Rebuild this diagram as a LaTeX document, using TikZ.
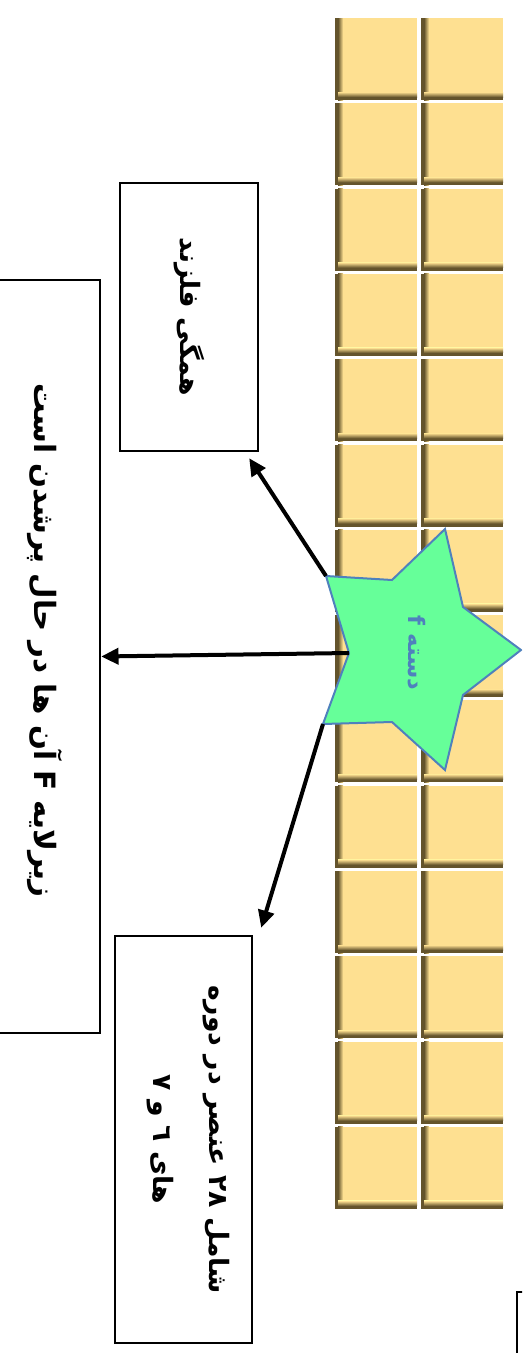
\documentclass[tikz,border=0pt]{standalone}
\usepackage{fontspec}
\usepackage{graphicx}
\newfontfamily\farsi[Script=Arabic]{DejaVu Sans}
\TeXXeTstate=1
\usetikzlibrary{arrows.meta}
\definecolor{cellbg}{RGB}{254,224,145}
\definecolor{cellsh}{RGB}{100,84,44}
\definecolor{stargreen}{RGB}{102,255,153}
\definecolor{starblue}{RGB}{79,129,189}
\tikzset{
  box/.style={draw, line width=1.8pt, inner sep=0pt, font=\farsi\bfseries},
  arr/.style={line width=3pt, -{Triangle[length=13pt,width=12pt]}},
}
\newcommand{\rtext}[1]{\rotatebox{-90}{\beginR #1\endR}}

\begin{document}
\begin{tikzpicture}[x=0.75pt, y=-0.75pt]
  \useasboundingbox (0,0) rectangle (522,1353);
  \clip (0,0) rectangle (522,1353);
  % two columns of cells
  \foreach \r [evaluate=\r as \y using 18+85.3*\r] in {0,...,13} {
    \foreach \cx in {335,421} {
      \fill[cellbg] (\cx,\y) rectangle (\cx+82,\y+82);
      \fill[cellsh] (\cx,\y) rectangle (\cx+3,\y+82);
      \fill[left color=cellsh, right color=cellbg] (\cx+3,\y) rectangle (\cx+8,\y+82);
      \fill[cellsh] (\cx,\y+79) rectangle (\cx+82,\y+82);
      \fill[top color=cellbg, bottom color=cellsh] (\cx+3,\y+74) rectangle (\cx+82,\y+79);
    }
  }
  \node[box, minimum width=103.5pt, minimum height=201pt] (hm) at (189,317)
    {\fontsize{20}{24}\selectfont\rtext{همگی فلزند}};
  \node[box, minimum width=82.5pt, minimum height=564.75pt] (zr) at (45,656.5)
    {\fontsize{22}{26}\selectfont\rotatebox{-90}{\beginR زیرلایه F آن ها در حال پرشدن است\endR\hspace{24pt}}};
  \node[box, minimum width=102.75pt, minimum height=305.25pt] (sh) at (183.5,1139.5)
    {\fontsize{20}{42}\selectfont\rotatebox{-90}{\raisebox{7pt}[\height][\depth]{\begin{tabular}{c}
      \beginR شامل ٢٨ عنصر در دوره\endR\\
      \beginR های ٦ و ٧\endR
    \end{tabular}}}};
  \node[draw, line width=1.8pt, minimum width=30pt, minimum height=60pt, anchor=north west] (nb) at (516,1291) {};
  % star
  \path (445,529) coordinate (s1) (392,580) coordinate (s2)
        (326,576) coordinate (s3) (349,653) coordinate (s4)
        (323,724) coordinate (s5) (392,722) coordinate (s6)
        (445,770) coordinate (s7) (463,695) coordinate (s8)
        (521,650) coordinate (s9) (463,607) coordinate (s10);
  \filldraw[fill=stargreen, draw=starblue, line width=1.5pt]
    (s1) -- (s2) -- (s3) -- (s4) -- (s5) -- (s6) -- (s7) -- (s8) -- (s9) -- (s10) -- cycle;
  \node[text=starblue, font=\farsi\bfseries\fontsize{17}{20}\selectfont] (fs) at (417,653) {\rtext{دسته f}};
  \coordinate (t1) at ([shift={(-10,6)}]hm.south east);
  \coordinate (t3) at ([shift={(8,-7)}]sh.north east);
  \draw[arr] (s3) -- (t1);
  \draw[arr] (s4) -- (zr.east);
  \draw[arr] (s5) -- (t3);
\end{tikzpicture}
\end{document}
